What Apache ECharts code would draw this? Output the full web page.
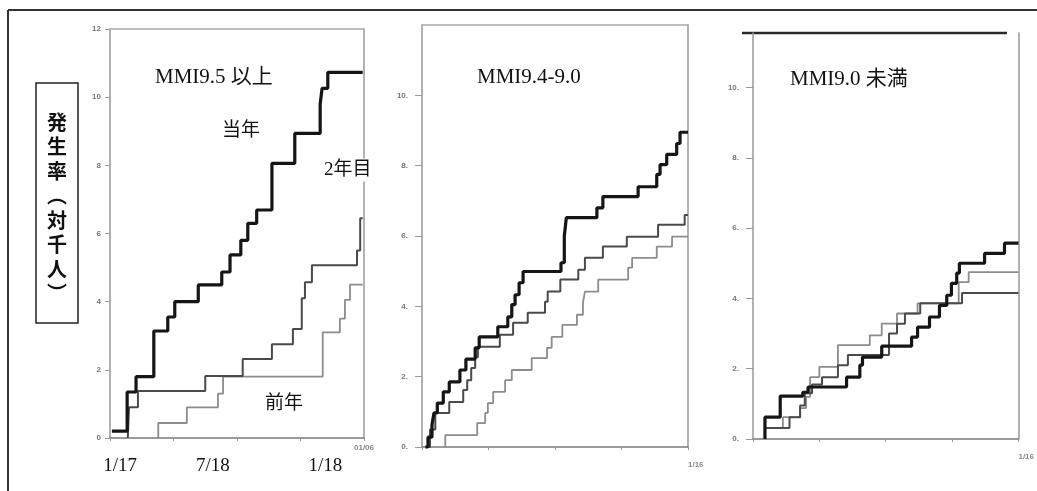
<!DOCTYPE html>
<html>
<head>
<meta charset="utf-8">
<script src="https://cdn.jsdelivr.net/npm/echarts@6/dist/echarts.min.js"></script>
<style>
  html, body { margin: 0; padding: 0; background: #fff; }
  #main { width: 1037px; height: 491px; }
</style>
</head>
<body>
<div id="main"></div>
<script>
// x: 0..4 (one year, quarters), y: incidence per 1000
var titles = ['MMI9.5 以上', 'MMI9.4-9.0', 'MMI9.0 未満'];
var yMax = [12, 12, 11.55];
var yTicks = [[0, 2, 4, 6, 8, 10, 12], [0, 2, 4, 6, 8, 10], [0, 2, 4, 6, 8, 10]];
var endLabels = ['01/06', '1/16', '1/16'];

// dates written under the first panel
var dateLabels = ['1/17', '7/18', '1/18'];
var datePos = [0.16, 1.62, 3.39];

// MMI9.5 以上
var p1Now = [[0.03, 0.2], [0.27, 1.35], [0.41, 1.8], [0.69, 3.14], [0.91, 3.55], [1.02, 4.0], [1.39, 4.49],
  [1.76, 4.87], [1.89, 5.37], [2.06, 5.8], [2.17, 6.3], [2.31, 6.69], [2.55, 8.06], [2.91, 8.94],
  [3.31, 9.8], [3.34, 10.26], [3.43, 10.73], [3.98, 10.73]];
var p1Second = [[0.28, 0], [0.30, 0.9], [0.44, 1.38], [1.50, 1.82], [2.09, 2.32], [2.55, 2.75], [2.88, 3.2],
  [3.02, 4.1], [3.07, 4.57], [3.18, 5.07], [3.89, 5.5], [3.94, 6.45], [3.98, 6.45]];
var p1Prev = [[0.76, 0], [0.76, 0.44], [1.21, 0.9], [1.70, 1.3], [1.78, 1.8], [3.35, 3.1], [3.62, 3.5],
  [3.70, 4.05], [3.78, 4.5], [3.98, 4.5]];

// MMI9.4-9.0
var p2Now = [[0.05, 0], [0.09, 0.28], [0.15, 0.63], [0.18, 0.97], [0.23, 1.25], [0.32, 1.57], [0.41, 1.85],
  [0.57, 2.19], [0.66, 2.5], [0.80, 2.82], [0.86, 3.13], [1.14, 3.42], [1.29, 3.7], [1.35, 4.05],
  [1.40, 4.33], [1.46, 4.67], [1.52, 4.99], [2.09, 5.24], [2.14, 6.0], [2.17, 6.52], [2.63, 6.8],
  [2.72, 7.12], [3.25, 7.4], [3.53, 7.75], [3.58, 8.03], [3.68, 8.32], [3.83, 8.63], [3.88, 8.95], [4.0, 8.95]];
var p2Second = [[0.06, 0], [0.12, 0.5], [0.20, 0.97], [0.41, 1.28], [0.62, 1.62], [0.68, 1.9], [0.74, 2.25],
  [0.80, 2.55], [0.84, 2.85], [1.17, 3.19], [1.37, 3.53], [1.59, 3.82], [1.85, 4.13], [1.89, 4.42],
  [2.08, 4.76], [2.35, 5.04], [2.45, 5.38], [2.72, 5.7], [3.08, 5.98], [3.55, 6.32], [3.95, 6.6], [4.0, 6.6]];
var p2Prev = [[0.35, 0], [0.35, 0.34], [0.83, 0.68], [0.95, 0.97], [0.99, 1.25], [1.07, 1.57], [1.25, 1.9],
  [1.35, 2.19], [1.65, 2.53], [1.88, 2.82], [1.95, 3.13], [2.11, 3.47], [2.33, 3.76], [2.42, 4.1],
  [2.45, 4.42], [2.65, 4.76], [3.10, 5.1], [3.16, 5.38], [3.53, 5.7], [3.76, 5.98], [4.0, 5.98]];

// MMI9.0 未満
var p3Now = [[0.18, 0], [0.18, 0.62], [0.41, 1.22], [0.75, 1.33], [0.83, 1.48], [1.41, 1.76], [1.61, 2.1],
  [1.65, 2.33], [1.94, 2.64], [2.39, 2.9], [2.48, 3.18], [2.66, 3.47], [2.81, 3.8], [2.92, 4.09],
  [2.99, 4.43], [3.07, 4.72], [3.11, 5.0], [3.49, 5.28], [3.79, 5.57], [4.0, 5.57]];
var p3Light = [[0.18, 0], [0.18, 0.31], [0.45, 0.62], [0.71, 0.88], [0.80, 1.2], [0.86, 1.76], [1.00, 2.05],
  [1.28, 2.67], [1.76, 2.95], [1.94, 3.28], [2.17, 3.57], [2.48, 3.86], [3.10, 4.46], [3.25, 4.75], [4.0, 4.75]];
var p3Dark = [[0.18, 0], [0.18, 0.31], [0.55, 0.62], [0.71, 0.95], [0.78, 1.3], [0.89, 1.55], [1.04, 1.76],
  [1.28, 2.1], [1.43, 2.39], [2.05, 3.0], [2.17, 3.28], [2.29, 3.57], [2.52, 3.86], [3.15, 4.15], [4.0, 4.15]];

var THICK = { color: '#151515', width: 3.2 };
var MID = { color: '#4a4a4a', width: 2 };
var THIN = { color: '#8c8c8c', width: 1.8 };

var grids = [
  { left: 110, top: 29, width: 254, height: 409 },
  { left: 422, top: 25, width: 266, height: 422 },
  { left: 753, top: 33, width: 266, height: 406 }
];

var xAxes = [], yAxes = [], series = [];
var serif = '"Liberation Serif", "Noto Sans CJK JP", serif';

grids.forEach(function (g, i) {
  // bottom axis
  xAxes.push({
    gridIndex: i, type: 'value', min: 0, max: 4, interval: 1,
    axisLine: { onZero: false, lineStyle: { color: '#7a7a7a', width: 1.5 } },
    axisTick: { length: 3, lineStyle: { color: '#999' } },
    axisLabel: {
      margin: i === 0 ? 6 : 14, fontSize: 8, fontWeight: 'bold', color: '#888',
      fontFamily: 'Liberation Sans', align: i === 0 ? 'center' : 'left',
      formatter: function (v) { return v === 4 ? endLabels[i] : ''; }
    },
    splitLine: { show: false }
  });
  // top border (panels 1, 2)
  xAxes.push({
    gridIndex: i, type: 'value', position: 'top', min: 0, max: 4,
    axisLine: { show: i < 2, onZero: false, lineStyle: { color: '#aaa', width: 1.5 } },
    axisTick: { show: false }, axisLabel: { show: false }, splitLine: { show: false }
  });
  yAxes.push({
    gridIndex: i, type: 'value', min: 0, max: yMax[i], interval: 2,
    axisLine: { show: true, onZero: false, lineStyle: { color: '#999', width: 1.5 } },
    axisTick: { show: true, customValues: yTicks[i], length: i === 0 ? 5 : 7, lineStyle: { color: '#999' } },
    axisLabel: {
      customValues: yTicks[i],
      margin: i === 0 ? 9 : 14, fontSize: 8, fontWeight: 'bold', color: '#777',
      fontFamily: 'Liberation Sans',
      formatter: function (v) { return i === 0 ? String(v) : v + '.'; }
    },
    splitLine: { show: false }
  });
  // right border
  yAxes.push({
    gridIndex: i, type: 'value', position: 'right', min: 0, max: yMax[i],
    axisLine: { show: true, onZero: false, lineStyle: { color: '#999', width: 1.5 } },
    axisTick: { show: false }, axisLabel: { show: false }, splitLine: { show: false }
  });
});

function addLine(panel, data, style, z) {
  series.push({
    type: 'line', step: 'end', xAxisIndex: panel * 2, yAxisIndex: panel * 2,
    data: data, showSymbol: false, z: z, clip: false,
    lineStyle: { color: style.color, width: style.width }
  });
}

addLine(0, p1Prev, THIN, 2);
addLine(0, p1Second, MID, 3);
addLine(0, p1Now, THICK, 4);
addLine(1, p2Prev, THIN, 2);
addLine(1, p2Second, MID, 3);
addLine(1, p2Now, THICK, 4);
addLine(2, p3Light, THIN, 2);
addLine(2, p3Dark, MID, 3);
addLine(2, p3Now, THICK, 4);

function txt(id, text, x, y, size, extra) {
  var s = { text: text, x: x, y: y, fill: '#111', font: size + 'px ' + serif, verticalAlign: 'middle' };
  for (var k in extra) s[k] = extra[k];
  return { id: id, type: 'text', z: 50, style: s };
}

function buildGraphic(dates) {
  var g = [
    // outer frame
    { id: 'frameTop', type: 'line', shape: { x1: 8, y1: 10, x2: 1037, y2: 10 }, style: { stroke: '#333', lineWidth: 2 } },
    { id: 'frameLeft', type: 'line', shape: { x1: 8, y1: 10, x2: 8, y2: 491 }, style: { stroke: '#333', lineWidth: 2 } },
    // top line of third panel
    { id: 'p3top', type: 'line', shape: { x1: 742, y1: 33, x2: 1007, y2: 33 }, style: { stroke: '#2a2a2a', lineWidth: 2.5 } },
    // y label box
    { id: 'ybox', type: 'rect', shape: { x: 36, y: 83, width: 42, height: 240 }, style: { fill: '#fff', stroke: '#222', lineWidth: 1.5 } },
    { id: 'ylabel', type: 'text', z: 50, style: {
      text: '発\n生\n率\n︵\n対\n千\n人\n︶', x: 57, y: 208, align: 'center', verticalAlign: 'middle',
      font: 'bold 20px "Noto Sans CJK JP"', lineHeight: 24.5, fill: '#111' } },
    txt('t0', titles[0], 155, 77, 21),
    txt('t1', titles[1], 477, 77, 21),
    txt('t2', titles[2], 790, 79, 21),
    txt('n1', '当年', 222, 131, 19),
    txt('n2', '2年目', 323, 170, 19, { backgroundColor: '#fff', padding: [2, 1] }),
    txt('n3', '前年', 265, 404, 19)
  ];
  return g.concat(dates || []);
}

var chart = echarts.init(document.getElementById('main'));
chart.setOption({
  animation: false,
  backgroundColor: '#fff',
  grid: grids,
  xAxis: xAxes,
  yAxis: yAxes,
  series: series,
  graphic: buildGraphic()
});

// date labels under panel 1, placed through the x scale
var dates = dateLabels.map(function (label, i) {
  var p = chart.convertToPixel({ xAxisIndex: 0, yAxisIndex: 0 }, [datePos[i], 0]);
  return txt('d' + i, label, p[0], 466, 19, { align: 'center' });
});
chart.setOption({ graphic: buildGraphic(dates) });
</script>
</body>
</html>
